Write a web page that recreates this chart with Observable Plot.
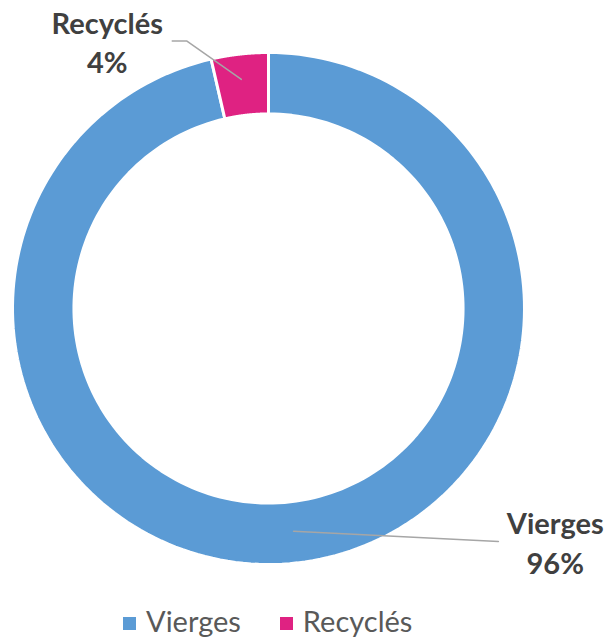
<!DOCTYPE html>
<html><head><meta charset="utf-8">
<script src="https://cdn.jsdelivr.net/npm/d3@7"></script>
<script src="https://cdn.jsdelivr.net/npm/@observablehq/plot@0.6"></script>
<style>
body{margin:0;background:#fff;font-family:Lato,"Open Sans",sans-serif;}
#legend{display:flex;justify-content:flex-start;padding-left:123px;font-size:29px;color:#595959;height:40px;align-items:center}
#legend div{margin-right:39px}
#legend span.sw{display:inline-block;width:13px;height:13px;margin-right:10px;vertical-align:middle;position:relative;top:-1px}
</style></head><body>
<div id="chart"></div>
<div id="legend"></div>
<script>
const categories = ["Vierges", "Recyclés"];
const values = [96.4, 3.6];
const colors = ["#5B9BD5", "#DF2282"];
const innerRatio = 0.76;

const total = d3.sum(values);
const pie = d3.pie().sort(null).value(d => d.value)(categories.map((c, i) => ({name: c, value: values[i]})));

// polygon outline for each slice (unit coordinates, angle 0 at top, clockwise)
const pts = [];
pie.forEach(s => {
  const n = 200;
  const poly = [];
  for (let k = 0; k <= n; k++) { const a = s.startAngle + (s.endAngle - s.startAngle) * k / n; poly.push([Math.sin(a), Math.cos(a)]); }
  for (let k = n; k >= 0; k--) { const a = s.startAngle + (s.endAngle - s.startAngle) * k / n; poly.push([innerRatio * Math.sin(a), innerRatio * Math.cos(a)]); }
  poly.push(poly[0]);
  poly.forEach(p => pts.push({name: s.data.name, x: p[0], y: p[1]}));
});

const pct = categories.map((c, i) => Math.round(values[i] / total * 100) + "%");
// label anchors (unit coordinates)
const labels = [
  {name: "Vierges", x: 1.12, y: -0.91, leader: [[0.098, -0.87], [0.898, -0.91]]},
  {name: "Recyclés", x: -0.63, y: 1.045, leader: [[-0.106, 0.895], [-0.32, 1.045], [-0.376, 1.045]]}
];
const leaderPts = labels.flatMap(l => l.leader.map(p => ({name: l.name, x: p[0], y: p[1]})));
const labelTexts = labels.map(l => ({...l, text: l.name + "\n" + pct[categories.indexOf(l.name)]}));

const cx = 268, cy = 308, R = 256;
const chart = Plot.plot({
  width: 608, height: 600, margin: 0,
  x: {domain: [-1, 1], range: [cx - R, cx + R], axis: null},
  y: {domain: [-1, 1], range: [cy + R, cy - R], axis: null},
  color: {domain: categories, range: colors},
  marks: [
    Plot.line(pts, {x: "x", y: "y", z: "name", fill: "name", stroke: "white", strokeWidth: 3, curve: "linear"}),
    Plot.line(leaderPts, {x: "x", y: "y", z: "name", stroke: "#a6a6a6", strokeWidth: 1.5}),
    Plot.text(labelTexts, {x: "x", y: "y", text: "text", fill: "#404040", fontSize: 29, fontWeight: "bold", lineHeight: 1.35, fontFamily: "Lato"})
  ]
});
document.getElementById("chart").appendChild(chart);

const lg = document.getElementById("legend");
categories.forEach((c, i) => {
  const d = document.createElement("div");
  d.innerHTML = `<span class="sw" style="background:${colors[i]}"></span>${c}`;
  lg.appendChild(d);
});
</script>
</body></html>
